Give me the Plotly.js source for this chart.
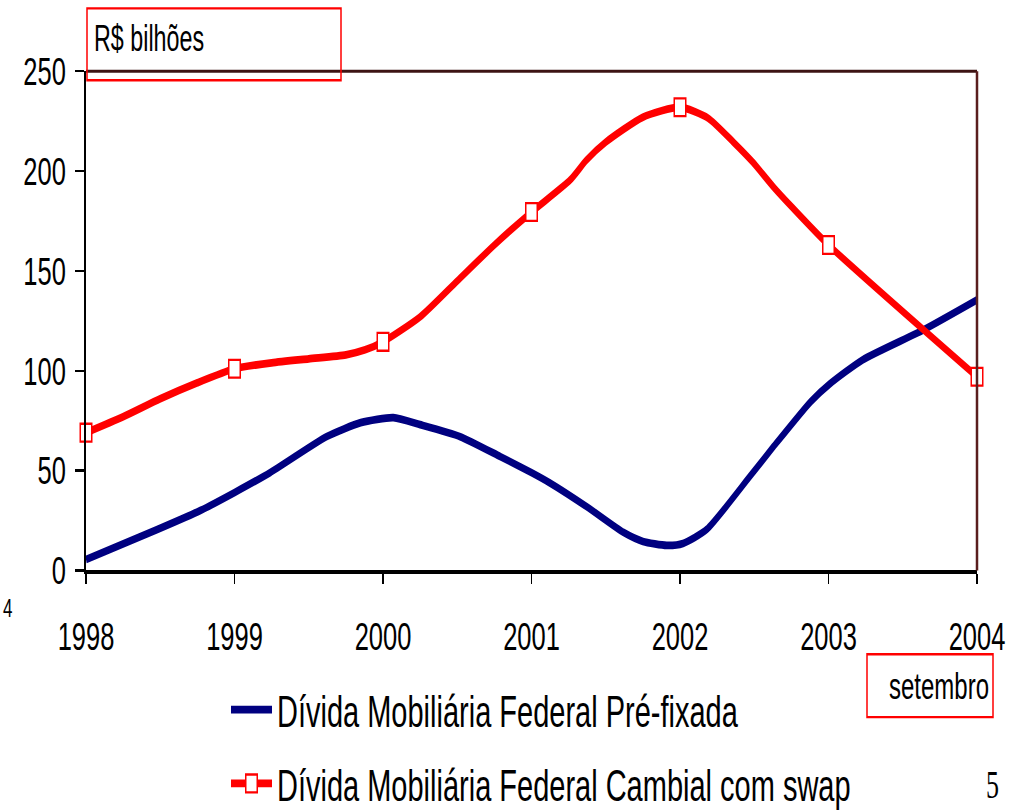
<!DOCTYPE html>
<html>
<head>
<meta charset="utf-8">
<script src="https://cdn.plot.ly/plotly-3.0.1.min.js"></script>
<style>
html,body{margin:0;padding:0;background:#fff;overflow:hidden;}
#wrap{width:1027px;height:812px;overflow:hidden;}
#chart{width:1027px;height:524px;transform:scaleY(1.55);transform-origin:0 0;}
</style>
</head>
<body>
<div id="wrap"><div id="chart"></div></div>
<script>
// ---- data ----
var preX = [1998.00,1998.48,1998.77,1999.00,1999.24,1999.62,1999.85,2000.07,2000.25,2000.52,2000.79,2001.00,2001.12,2001.37,2001.62,2001.75,2001.91,2002.02,2002.18,2002.47,2002.63,2002.88,2003.01,2003.23,2003.64,2004.00];
var preY = [5.5,20.5,30,39,49,67,74,76.5,73,67,57,49,44,32,19,14.5,12.5,13.5,20.5,47,62,84.5,93.5,105.5,120.5,135.5];

var camX = [1998.00,1998.25,1998.50,1998.75,1999.00,1999.25,1999.50,1999.75,1999.88,2000.00,2000.25,2000.50,2000.75,2001.00,2001.26,2001.37,2001.50,2001.75,2002.00,2002.19,2002.36,2002.49,2002.63,2002.76,2003.00,2004.00];
var camY = [69,77,86,94,101,104,106,108,110.5,114.5,127,145,163,179.5,195.5,205.5,214.5,227,232,226.5,214.5,204.5,192,181.5,163,97];

var yearTicks = [1998,1999,2000,2001,2002,2003,2004];
var yearLabels = ['1998','1999','2000','2001','2002','2003','2004'];
var yTicks = [0,50,100,150,200,250];

var namePre = 'Dívida Mobiliária Federal Pré-fixada';
var nameCam = 'Dívida Mobiliária Federal Cambial com swap';

// yearly marker points taken from the cambial series
var mkX = [], mkY = [];
camX.forEach(function(x, i){ if (yearTicks.indexOf(x) >= 0) { mkX.push(x); mkY.push(camY[i]); } });

var FONT = '"Liberation Sans",Arial,sans-serif';
var RED = '#ff0000', NAVY = '#000080';

var traces = [
  {x: preX, y: preY, type: 'scatter', mode: 'lines', name: namePre,
   line: {color: NAVY, width: 5, shape: 'spline', smoothing: 0.6},
   legendgroup: 'a', showlegend: true},
  {x: camX, y: camY, type: 'scatter', mode: 'lines', name: nameCam,
   line: {color: RED, width: 5, shape: 'spline', smoothing: 0.6},
   legendgroup: 'b', showlegend: false},
  {x: mkX, y: mkY, type: 'scatter', mode: 'markers', name: nameCam,
   marker: {symbol: 'square', size: 11.5, color: '#ffffff', line: {color: RED, width: 1.5}},
   legendgroup: 'b', showlegend: false, cliponaxis: false},
  {x: [null], y: [null], type: 'scatter', mode: 'lines+markers', name: nameCam,
   line: {color: RED, width: 5},
   marker: {symbol: 'square', size: 11.5, color: '#ffffff', line: {color: RED, width: 1.5}},
   legendgroup: 'b', showlegend: true}
];

// paper helpers: reference-pixel positions -> paper fractions (plot spans x 86..977, y 71..571)
function px(x){ return (x - 86) / 891; }
function py(y){ return (571 - y) / 500; }

var layout = {
  width: 1027, height: 524,
  margin: {l: 86, r: 50, t: 46, b: 155.6, autoexpand: false},
  paper_bgcolor: '#ffffff', plot_bgcolor: '#ffffff',
  font: {family: FONT, color: '#000000', size: 26},
  showlegend: true,
  legend: {x: px(226), xanchor: 'left', y: py(671), yanchor: 'top',
           orientation: 'v', tracegroupgap: 7, itemwidth: 41,
           font: {family: FONT, size: 29, color: '#000'}, bgcolor: 'rgba(0,0,0,0)'},
  xaxis: {range: [1998, 2004], tickvals: yearTicks, ticktext: yearLabels,
          showgrid: false, zeroline: false, showline: true, linecolor: '#000', linewidth: 2,
          ticks: 'outside', ticklen: 7, tickwidth: 1.5, tickcolor: '#000',
          ticklabelstandoff: 12,
          tickfont: {family: FONT, size: 25.5, color: '#000'}, fixedrange: true},
  yaxis: {range: [0, 250], tickvals: yTicks,
          showgrid: false, zeroline: false, showline: true, linecolor: '#000', linewidth: 2,
          ticks: 'outside', ticklen: 9, tickwidth: 1.5, tickcolor: '#000',
          ticklabelstandoff: 4,
          tickfont: {family: FONT, size: 25.5, color: '#000'}, fixedrange: true},
  shapes: [
    {type: 'line', xref: 'paper', yref: 'paper', x0: 0, x1: 1, y0: 1, y1: 1,
     line: {color: '#3d1414', width: 2}},
    {type: 'line', xref: 'paper', yref: 'paper', x0: 1, x1: 1, y0: 0, y1: 1,
     line: {color: '#5a1e1e', width: 2.5}},
    // "R$ bilhões" box
    {type: 'rect', xref: 'paper', yref: 'paper',
     x0: px(87), x1: px(341), y0: py(80), y1: py(8),
     line: {color: RED, width: 1.5}, fillcolor: 'rgba(0,0,0,0)'},
    // "setembro" box
    {type: 'rect', xref: 'paper', yref: 'paper',
     x0: px(867), x1: px(993), y0: py(718), y1: py(655),
     line: {color: RED, width: 1.5}, fillcolor: 'rgba(0,0,0,0)'}
  ],
  annotations: [
    {text: 'R$ bilhões', xref: 'paper', yref: 'paper', x: px(92), y: py(38),
     xanchor: 'left', yanchor: 'middle', showarrow: false,
     font: {family: FONT, size: 23.3, color: '#000'}},
    {text: 'setembro', xref: 'paper', yref: 'paper', x: px(991), y: py(687),
     xanchor: 'right', yanchor: 'middle', showarrow: false,
     font: {family: FONT, size: 24, color: '#000'}},
    {text: '4', xref: 'paper', yref: 'paper', x: px(1), y: py(609),
     xanchor: 'left', yanchor: 'middle', showarrow: false,
     font: {family: FONT, size: 17, color: '#000'}},
    {text: '5', xref: 'paper', yref: 'paper', x: px(993), y: py(786),
     xanchor: 'center', yanchor: 'middle', showarrow: false,
     font: {family: '"Liberation Serif","Times New Roman",serif', size: 26, color: '#000'}}
  ]
};

Plotly.newPlot('chart', traces, layout, {displayModeBar: false, staticPlot: true});
</script>
</body>
</html>
